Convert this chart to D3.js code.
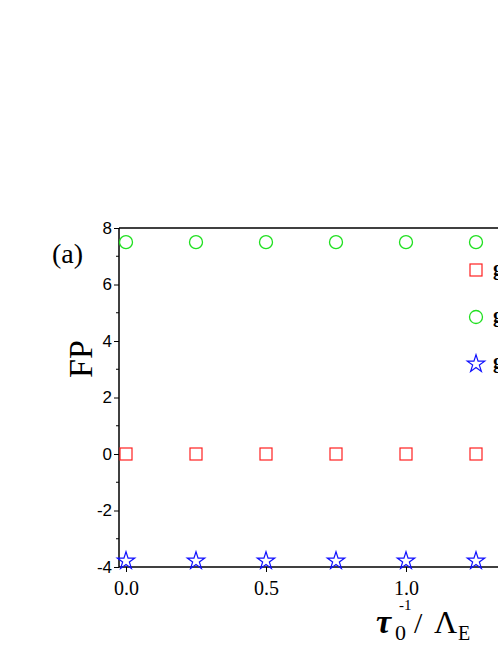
<!DOCTYPE html>
<html><head><meta charset="utf-8">
<script src="https://cdn.jsdelivr.net/npm/d3@7"></script>
<style>body{margin:0;background:#fff}svg{display:block}</style>
</head><body>
<script>
const xValues = [0, 0.25, 0.5, 0.75, 1.0, 1.25];
const seriesSquare = [0, 0, 0, 0, 0, 0];
const seriesCircle = [7.5, 7.5, 7.5, 7.5, 7.5, 7.5];
const seriesStar = [-3.75, -3.75, -3.75, -3.75, -3.75, -3.75];
const xTicks = [0, 0.5, 1.0, 1.5];
const yTicks = [-4, -2, 0, 2, 4, 6, 8];
const yMinor = [-3, -1, 1, 3, 5, 7];
const legendLabels = ["g", "g", "g"];

const W = 498, H = 645;
const serif = "'Liberation Serif', 'Times New Roman', serif";
const sans = "'Liberation Sans', Arial, sans-serif";
const svg = d3.select("body").append("svg").attr("width", W).attr("height", H);
const x = d3.scaleLinear().domain([-0.025, 1.5]).range([119, 546]);
const y = d3.scaleLinear().domain([-4, 8]).range([567, 228]);

// frame
svg.append("line").attr("x1",119).attr("x2",W+5).attr("y1",228).attr("y2",228).attr("stroke","#000").attr("stroke-width",1.5);
const xa = svg.append("g").attr("transform","translate(0,567)")
  .call(d3.axisBottom(x).tickValues(xTicks).tickSize(5).tickFormat(d => d.toFixed(1)));
xa.select(".domain").attr("d","M119,0H"+(W+5)).attr("stroke-width",1.5);
xa.selectAll("text").style("font-family",serif).style("font-size","20px").attr("y",28).attr("dy",0).attr("fill","#000");
const ya = svg.append("g").attr("transform","translate(119,0)")
  .call(d3.axisLeft(y).tickValues(yTicks).tickSize(5).tickFormat(d => String(d)));
ya.select(".domain").attr("d","M0,228V567").attr("stroke-width",1.5);
ya.selectAll("text").style("font-family",sans).style("font-size","17px").attr("fill","#000").attr("x",-7);
svg.append("g").selectAll("line").data(yMinor).join("line")
  .attr("x1",116).attr("x2",119).attr("y1",d=>y(d)).attr("y2",d=>y(d)).attr("stroke","#000").attr("stroke-width",1);

// markers
const sq = 12;
svg.append("g").selectAll("rect").data(xValues).join("rect")
  .attr("x",(d)=>x(d)-sq/2).attr("y",(d,i)=>y(seriesSquare[i])-sq/2).attr("width",sq).attr("height",sq)
  .attr("fill","none").attr("stroke","#ff2020").attr("stroke-width",1.2);
svg.append("g").selectAll("circle").data(xValues).join("circle")
  .attr("cx",d=>x(d)).attr("cy",(d,i)=>y(seriesCircle[i])).attr("r",6.5)
  .attr("fill","none").attr("stroke","#20e020").attr("stroke-width",1.3);
const star = d3.symbol().type(d3.symbolStar).size(95);
svg.append("g").selectAll("path").data(xValues).join("path")
  .attr("d",star()).attr("transform",(d,i)=>`translate(${x(d)},${y(seriesStar[i])+1})`)
  .attr("fill","none").attr("stroke","#1010ff").attr("stroke-width",1.2);

// legend
const lg = svg.append("g");
const ly = [270, 317, 363];
lg.append("rect").attr("x",476-sq/2).attr("y",ly[0]-sq/2).attr("width",sq).attr("height",sq).attr("fill","none").attr("stroke","#ff2020").attr("stroke-width",1.2);
lg.append("circle").attr("cx",476).attr("cy",ly[1]).attr("r",6.5).attr("fill","none").attr("stroke","#20e020").attr("stroke-width",1.3);
lg.append("path").attr("d",star()).attr("transform",`translate(476,${ly[2]+1})`).attr("fill","none").attr("stroke","#1010ff").attr("stroke-width",1.2);
lg.selectAll("text").data(legendLabels).join("text")
  .attr("x",493).attr("y",(d,i)=>ly[i]+5).style("font-family",serif).attr("font-weight","bold").style("font-size","20px").text(d=>d);

// labels
svg.append("text").attr("x",52).attr("y",263).style("font-family",serif).style("font-size","28px").text("(a)");
svg.append("text").attr("transform","translate(92,359) rotate(-90)").attr("text-anchor","middle")
  .style("font-family",serif).style("font-size","34px").text("FP");
const xlab = svg.append("g").style("font-family",serif);
xlab.append("text").attr("x",376).attr("y",633).style("font-size","34px").attr("font-style","italic").attr("font-weight","bold").text("τ");
xlab.append("text").attr("x",395).attr("y",640).style("font-size","22px").text("0");
xlab.append("text").attr("x",399).attr("y",610).style("font-size","15px").text("-1");
xlab.append("text").attr("x",414).attr("y",633).style("font-size","30px").text("/");
xlab.append("text").attr("x",434).attr("y",633).style("font-size","32px").text("Λ");
xlab.append("text").attr("x",458).attr("y",640).style("font-size","20px").text("E");
</script>
</body></html>
